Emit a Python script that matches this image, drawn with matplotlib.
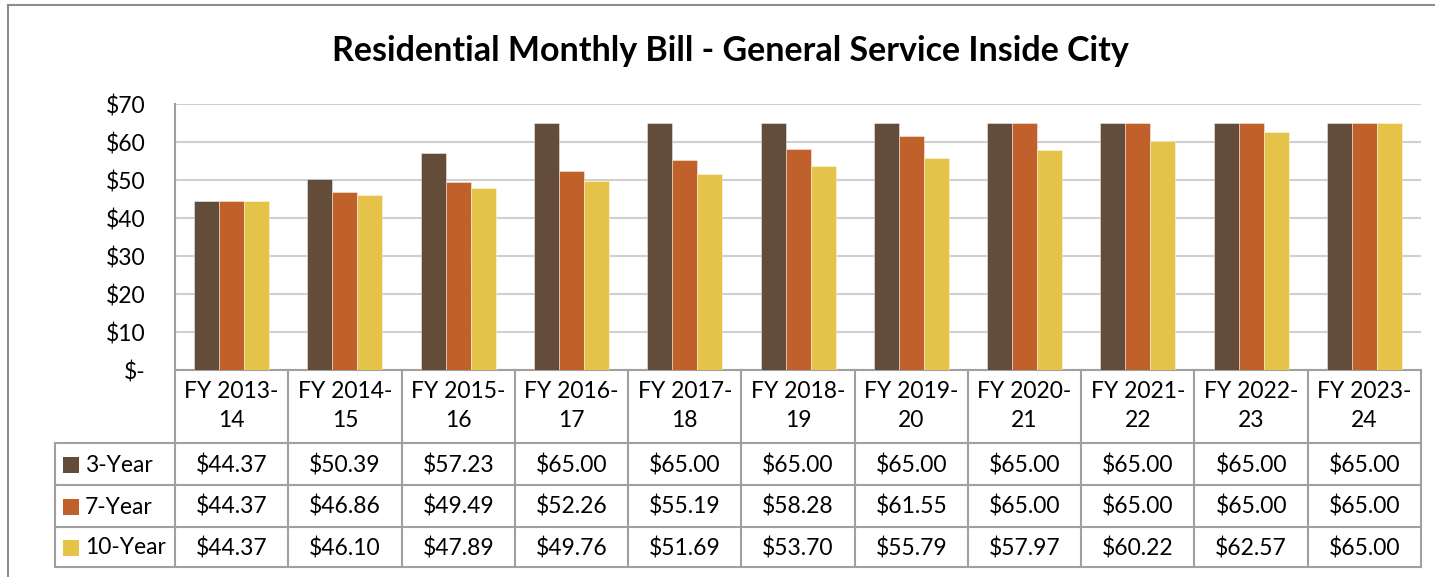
import matplotlib
matplotlib.use("Agg")
import matplotlib.pyplot as plt
from matplotlib.lines import Line2D
from matplotlib.ticker import FuncFormatter

plt.rcParams['font.family'] = ['Lato', 'DejaVu Sans']

categories = ["FY 2013-\n14", "FY 2014-\n15", "FY 2015-\n16", "FY 2016-\n17", "FY 2017-\n18",
              "FY 2018-\n19", "FY 2019-\n20", "FY 2020-\n21", "FY 2021-\n22", "FY 2022-\n23",
              "FY 2023-\n24"]
series_names = ["3-Year", "7-Year", "10-Year"]
three_year = [44.37, 50.39, 57.23, 65.00, 65.00, 65.00, 65.00, 65.00, 65.00, 65.00, 65.00]
seven_year = [44.37, 46.86, 49.49, 52.26, 55.19, 58.28, 61.55, 65.00, 65.00, 65.00, 65.00]
ten_year = [44.37, 46.10, 47.89, 49.76, 51.69, 53.70, 55.79, 57.97, 60.22, 62.57, 65.00]
colors = ["#634C3A", "#C0602A", "#E5C349"]
yticks = [0, 10, 20, 30, 40, 50, 60, 70]
title = "Residential Monthly Bill - General Service Inside City"

W, H = 1435, 577
fig = plt.figure(figsize=(W / 100, H / 100), dpi=100)
FS = 16.5


def fx(px):
    return px / W


def fy(py):
    return 1 - py / H


PL, PR, PT, PB = 175, 1421, 104, 370
ax = fig.add_axes([fx(PL), fy(PB), fx(PR) - fx(PL), fy(PT) - fy(PB)])
n = len(categories)
ax.set_xlim(-0.5, n - 0.5)
ax.set_ylim(0, 70)
unit = (PR - PL) / n  # px per category

bw = 25 / unit
xs = list(range(n))
all_series = [three_year, seven_year, ten_year]
for k, (vals, c) in enumerate(zip(all_series, colors)):
    ax.bar([x + (k - 1) * bw for x in xs], vals, width=bw, color=c,
           edgecolor=(1, 1, 1, 0.5), linewidth=0.6, zorder=3)

ax.set_yticks(yticks)
ax.yaxis.set_major_formatter(FuncFormatter(lambda v, p: "$-" if v == 0 else f"${v:.0f}"))
ax.tick_params(axis='y', length=0, pad=21, labelsize=FS)
ax.set_xticks([])
ax.grid(axis='y', color='#D0D0D0', linewidth=1.5, zorder=0)
for s in ['top', 'right']:
    ax.spines[s].set_visible(False)
ax.spines['left'].set_color('#A0A0A0')
ax.spines['left'].set_linewidth(1.5)
ax.spines['bottom'].set_color('#A0A0A0')
ax.spines['bottom'].set_linewidth(1.5)

# data table
TB = 567
tab = fig.add_axes([fx(PL), fy(TB), fx(PR) - fx(PL), fy(PB) - fy(TB)])
tab.set_xlim(-0.5, n - 0.5)
tab.set_ylim(TB, PB)
tab.axis('off')
lc = '#A0A0A0'
label_left = -0.5 - (PL - 55) / unit
row_lines = [443, 485, 527, 567]
for yy in row_lines:
    tab.plot([label_left, n - 0.5], [yy, yy], color=lc, lw=1.5, clip_on=False)
for k in range(n + 1):
    tab.plot([k - 0.5, k - 0.5], [PB, TB], color=lc, lw=1.5, clip_on=False)
tab.plot([label_left, label_left], [443, TB], color=lc, lw=1.5, clip_on=False)

for i, cat in enumerate(categories):
    tab.text(i, 406, cat, ha='center', va='center', fontsize=FS, linespacing=1.5)

for r, (name, vals, c) in enumerate(zip(series_names, all_series, colors)):
    yc = (row_lines[r] + row_lines[r + 1]) / 2 + 1
    tab.plot([label_left + 16.5 / unit], [yc], marker='s', markersize=11, color=c,
             clip_on=False, markeredgewidth=0)
    tab.text(label_left + 30 / unit, yc, name, ha='left', va='center', fontsize=FS)
    for i, v in enumerate(vals):
        tab.text(i, yc, f"${v:.2f}", ha='center', va='center', fontsize=FS)

fig.text(fx(730), fy(51), title, ha='center', va='center', fontsize=24.5, fontweight='bold')

# chart border
fig.add_artist(Line2D([fx(8), fx(8)], [fy(5), 0], color='#8C8C8C', lw=1.5))
fig.add_artist(Line2D([fx(8), 1], [fy(5), fy(5)], color='#8C8C8C', lw=1.5))

fig.savefig("out.png", dpi=100)
